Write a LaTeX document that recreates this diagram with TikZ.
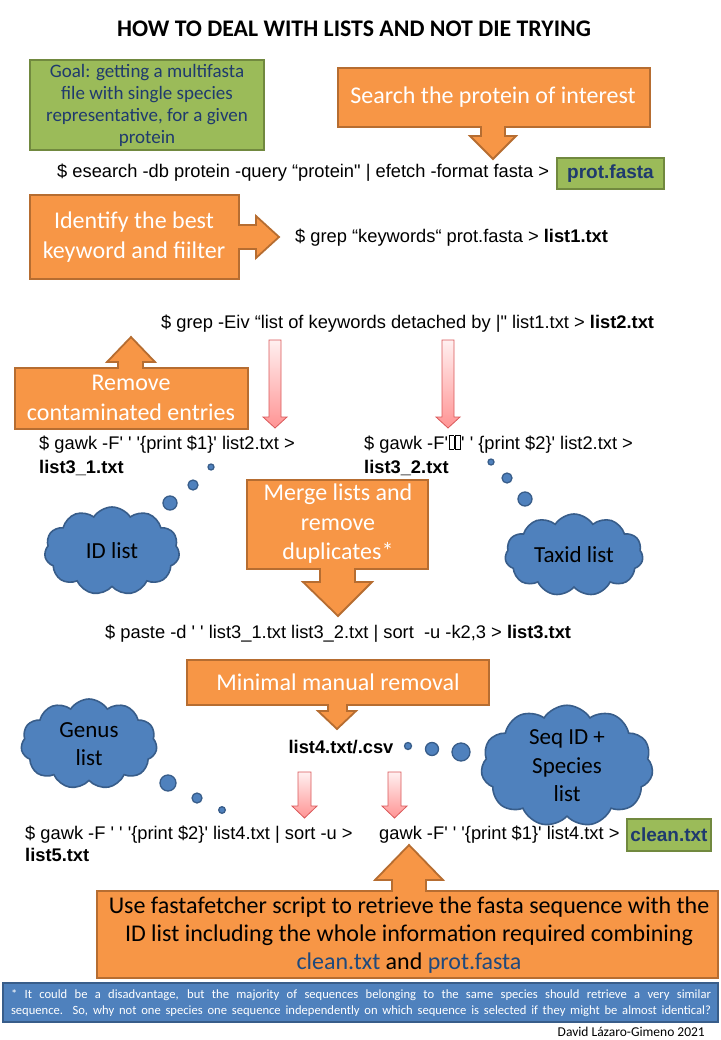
\documentclass[tikz,border=0pt]{standalone}
\usepackage{fontspec}
\setmainfont{Carlito}
\newfontfamily\cmdfont{Liberation Sans}
\usetikzlibrary{shapes.symbols}
\definecolor{orangefill}{HTML}{F79646}
\definecolor{orangeline}{HTML}{B66D31}
\definecolor{greenfill}{HTML}{9BBB59}
\definecolor{greenline}{HTML}{71893F}
\definecolor{cloudblue}{HTML}{4F81BD}
\definecolor{cloudline}{HTML}{385D8A}
\definecolor{navytext}{HTML}{1F3A6E}
\definecolor{linktext}{HTML}{1F497D}
\definecolor{pinkline}{HTML}{D9595A}
\newcommand\missingglyph{\kern0.6pt\fbox{\rule{0pt}{0.72em}\hspace{0.24em}}\kern0.6pt}
\setlength{\fboxsep}{0pt}
\setlength{\fboxrule}{0.5pt}
\newcommand\sq{\textquotesingle}
\newcommand\dq{\textquotedbl}
\tikzset{
  cmd/.style={font=\cmdfont\fontsize{18.3}{21}\selectfont, inner sep=0pt, anchor=base west},
  cmdbold/.style={cmd, font=\cmdfont\bfseries\fontsize{18.3}{21}\selectfont},
  calloutbox/.style={fill=orangefill, draw=orangeline, line width=1.8pt, line join=miter},
  calltext/.style={text=white, align=center, inner sep=0pt, font=\fontsize{24}{29.5}\selectfont},
  greenbox/.style={fill=greenfill, draw=greenline, line width=1.8pt},
  pinkarrow/.style={top color=red!6, bottom color=red!42, draw=pinkline, line width=0.8pt},
  thought/.style={cloud, cloud puffs=11, cloud puff arc=115, fill=cloudblue, draw=cloudline, line width=1.6pt, inner sep=0pt, align=center, font=\fontsize{23}{28.5}\selectfont},
  bubble/.style={fill=cloudblue, draw=cloudline, line width=1.3pt}
}
\begin{document}
\begin{tikzpicture}[x=1pt, y=-1pt]
\useasboundingbox (0,0) rectangle (720,1040);

% title
\node[font=\bfseries\fontsize{23.8}{26}\selectfont] (title) at (354,29) {HOW TO DEAL WITH LISTS AND NOT DIE TRYING};

% goal
\draw[greenbox] (30,60) rectangle (264,150);
\node[text=navytext, align=center, font=\fontsize{19}{22}\selectfont] (goal) at (147,105) {Goal: getting a multifasta\\file with single species\\representative, for a given\\protein};

% search the protein
\draw[calloutbox] (338,68) -- (650,68) -- (650,127) -- (505,127) -- (505,136) -- (516,136) -- (493,159)
  -- (470,136) -- (481,136) -- (481,127) -- (338,127) -- cycle;
\node[calltext] (search) at (493,97) {Search the protein of interest};

\node[cmd] (esearch) at (57,178) {\$ esearch -db protein -query “protein\dq{} | efetch -format fasta >};
\draw[greenbox] (557,158) rectangle (664,189);
\node[text=navytext, font=\cmdfont\bfseries\fontsize{19}{21}\selectfont] (protfasta) at (610.5,173.5) {prot.fasta};

% identify keyword
\draw[calloutbox] (30,195) -- (239,195) -- (239,225) -- (256,225) -- (256,216) -- (279,237)
  -- (256,258) -- (256,249) -- (239,249) -- (239,279) -- (30,279) -- cycle;
\node[calltext] (identify) at (134,237) {Identify the best\\keyword and fiilter};

\node[cmd] (grepkey) at (295,243) {\$ grep “keywords“ prot.fasta > \textbf{list1.txt}};
\node[cmd] (grepeiv) at (161,328) {\$ grep -Eiv “list of keywords detached by |\dq{} list1.txt > \textbf{list2.txt}};

% remove contaminated
\draw[calloutbox] (15,368) -- (118,368) -- (118,362) -- (107,362) -- (131,337) -- (155,362)
  -- (143,362) -- (143,368) -- (248,368) -- (248,429) -- (15,429) -- cycle;
\node[calltext] (remove) at (131,398) {Remove\\contaminated entries};

\draw[pinkarrow] (269,340) -- (281,340) -- (281,417) -- (287,417) -- (275,428) -- (263,417) -- (269,417) -- cycle;
\draw[pinkarrow] (442,340) -- (454,340) -- (454,417) -- (460,417) -- (448,428) -- (436,417) -- (442,417) -- cycle;

\node[cmd] (gawkone) at (39,449) {\$ gawk -F\sq{} \sq{} \sq\{print \$1\}\sq{} list2.txt >};
\node[cmdbold] (listone) at (39,473) {list3\_1.txt};
\node[cmd] (gawktwo) at (364,449) {\$ gawk -F\sq\missingglyph\missingglyph\sq{} \sq{} \{print \$2\}\sq{} list2.txt >};
\node[cmdbold] (listtwo) at (364,473) {list3\_2.txt};

% ID list thought
\draw[bubble] (211,467) circle (3);
\draw[bubble] (193,485) circle (5);
\draw[bubble] (170,503) circle (7);
\node[thought, aspect=1.6, minimum width=135pt, minimum height=88pt] (idlist) at (112,551) {ID list};

% Taxid list thought
\draw[bubble] (491,462) circle (3);
\draw[bubble] (507,478) circle (5);
\draw[bubble] (525,499) circle (7);
\node[thought, aspect=1.9, minimum width=138pt, minimum height=82pt] (taxid) at (574,555) {Taxid list};

% merge
\draw[calloutbox] (247,480) -- (428,480) -- (428,569) -- (355,569) -- (355,582) -- (372,582) -- (338,616)
  -- (303,582) -- (320,582) -- (320,569) -- (247,569) -- cycle;
\node[calltext] (merge) at (338,524) {Merge lists and\\remove\\duplicates*};

\node[cmd] (paste) at (105,638) {\$ paste -d \sq{} \sq{} list3\_1.txt list3\_2.txt | sort~ -u -k2,3 > \textbf{list3.txt}};

% minimal manual removal
\draw[calloutbox] (187,660) -- (489,660) -- (489,705) -- (347,705) -- (347,711) -- (356,711) -- (337,729)
  -- (318,711) -- (328,711) -- (328,705) -- (187,705) -- cycle;
\node[calltext] (minimal) at (338,682) {Minimal manual removal};

\node[cmdbold, anchor=center] (listfour) at (341,747) {list4.txt/.csv};

% genus thought
\node[thought, aspect=1.4, minimum width=136pt, minimum height=90pt] (genus) at (89,744) {Genus\\list};
\draw[bubble] (168,783) circle (8);
\draw[bubble] (197,798) circle (5);
\draw[bubble] (222,810) circle (3.3);

% seq ID thought
\draw[bubble] (408,746) circle (3.5);
\draw[bubble] (432,749) circle (6.5);
\draw[bubble] (461,752) circle (9);
\node[thought, aspect=1.5, minimum width=172pt, minimum height=106pt] (seqid) at (567,766) {Seq ID +\\Species\\list};

\draw[pinkarrow] (298,772) -- (311,772) -- (311,806) -- (317,806) -- (304.5,818) -- (292,806) -- (298,806) -- cycle;
\draw[pinkarrow] (388,772) -- (401,772) -- (401,806) -- (407,806) -- (394.5,818) -- (382,806) -- (388,806) -- cycle;

\node[cmd] (gawkgenus) at (25,839) {\$ gawk -F \sq{} \sq{} \sq\{print \$2\}\sq{} list4.txt | sort -u >};
\node[cmdbold] (listfive) at (25,861) {list5.txt};
\node[cmd] (gawkseq) at (379,839) {gawk -F\sq{} \sq{} \sq\{print \$1\}\sq{} list4.txt >};
\draw[greenbox] (627,819) rectangle (711,851);
\node[text=navytext, font=\cmdfont\bfseries\fontsize{19}{21}\selectfont] (clean) at (669,835) {clean.txt};

% fastafetcher
\draw[calloutbox] (97,891) -- (392,891) -- (392,880) -- (375,880) -- (409,845) -- (443,880)
  -- (426,880) -- (426,891) -- (718,891) -- (718,978) -- (97,978) -- cycle;
\node[align=center, inner sep=0pt, font=\fontsize{24}{28}\selectfont] (fetch) at (409,935) {Use fastafetcher script to retrieve the fasta sequence with the\\ID list including the whole information required combining\\\textcolor{linktext}{clean.txt} and \textcolor{linktext}{prot.fasta}};

% footnote
\draw[fill=cloudblue, draw=cloudline, line width=1.6pt] (3,983) rectangle (718,1022);
\node[text=white, inner sep=0pt, font=\fontsize{12.6}{16}\selectfont] (note) at (361,1003) {\parbox{700pt}{\hyphenpenalty=10000 \parfillskip=0pt * It could be a disadvantage, but the majority of sequences belonging to the same species should retrieve a very similar\linebreak sequence. So, why not one species one sequence independently on which sequence is selected if they might be almost identical?}};

\node[anchor=east, inner sep=0pt, font=\fontsize{13.5}{15}\selectfont] (credit) at (705,1032) {David Lázaro-Gimeno 2021};
\end{tikzpicture}
\end{document}
